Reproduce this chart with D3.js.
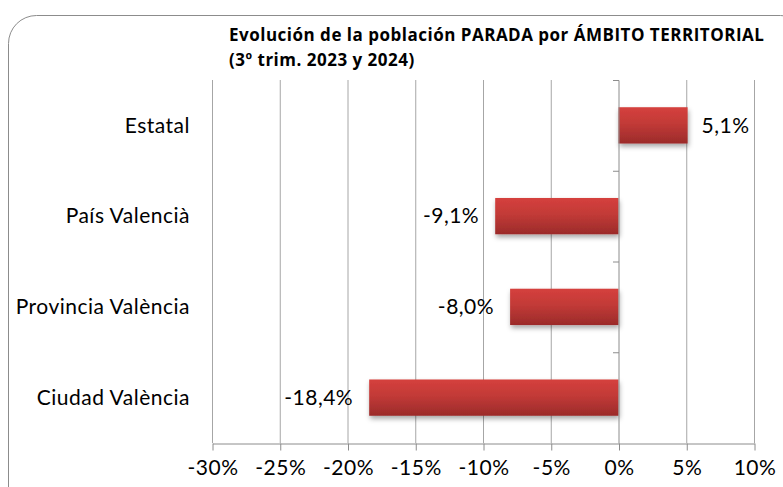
<!DOCTYPE html>
<html>
<head>
<meta charset="utf-8">
<script src="https://cdn.jsdelivr.net/npm/d3@7"></script>
<style>
  body { margin: 0; background: #fff; }
  svg { display: block; font-family: Lato, "Open Sans", sans-serif; }
</style>
</head>
<body>
<svg id="chart" width="783" height="487"></svg>
<script>
// data
const categories = ["Estatal", "País Valencià", "Provincia València", "Ciudad València"];
const values = [5.1, -9.1, -8.0, -18.4];
const labels = ["5,1%", "-9,1%", "-8,0%", "-18,4%"];
const xTicks = [-30, -25, -20, -15, -10, -5, 0, 5, 10];
const titleLines = ["Evolución de la población PARADA por ÁMBITO TERRITORIAL", "(3º trim. 2023 y 2024)"];

const W = 783, H = 487;
const m = { top: 80, right: 29, bottom: 44, left: 212 };
const svg = d3.select("#chart");
const bodyFont = { size: "21px", spacing: "0.5px" };

// frame
svg.append("rect")
  .attr("x", 8.5).attr("y", 15.5)
  .attr("width", 800).attr("height", 520)
  .attr("rx", 28)
  .attr("fill", "none").attr("stroke", "#8c8c8c").attr("stroke-width", 1);

const defs = svg.append("defs");
const grad = defs.append("linearGradient").attr("id", "barGrad")
  .attr("x1", 0).attr("y1", 0).attr("x2", 0).attr("y2", 1);
grad.append("stop").attr("offset", "0%").attr("stop-color", "#d5403d");
grad.append("stop").attr("offset", "45%").attr("stop-color", "#c23a37");
grad.append("stop").attr("offset", "100%").attr("stop-color", "#9b2b2a");
const shadow = defs.append("filter").attr("id", "shadow")
  .attr("x", "-10%").attr("y", "-20%").attr("width", "130%").attr("height", "160%");
shadow.append("feDropShadow").attr("dx", 1).attr("dy", 3).attr("stdDeviation", 2.5)
  .attr("flood-color", "#000").attr("flood-opacity", 0.35);

const x = d3.scaleLinear().domain([-30, 10]).range([m.left, W - m.right]);
const y = d3.scaleBand().domain(categories).range([m.top, H - m.bottom]).paddingInner(0.6).paddingOuter(0.3);
const yb = d3.scaleBand().domain(categories).range([m.top, H - m.bottom]);

// gridlines
svg.append("g")
  .selectAll("line").data(xTicks.filter(d => d !== 0)).join("line")
  .attr("x1", d => x(d) + 0.5).attr("x2", d => x(d) + 0.5)
  .attr("y1", m.top).attr("y2", H - m.bottom)
  .attr("stroke", "#a6a6a6").attr("stroke-width", 1);

// x axis
const xAxis = svg.append("g")
  .attr("transform", `translate(0.5,${H - m.bottom + 0.5})`)
  .call(d3.axisBottom(x).tickValues(xTicks).tickFormat(d => d + "%").tickSize(7).tickPadding(10).tickSizeOuter(0));
xAxis.select(".domain").attr("stroke", "#8c8c8c");
xAxis.selectAll(".tick line").attr("stroke", "#8c8c8c");
xAxis.selectAll("text").attr("fill", "#000")
  .style("font-size", bodyFont.size).style("letter-spacing", bodyFont.spacing)
  .style("font-family", "Lato, 'Open Sans', sans-serif");

// bars
svg.append("g")
  .selectAll("rect").data(values).join("rect")
  .attr("x", d => x(Math.min(0, d)))
  .attr("y", (d, i) => y(categories[i]))
  .attr("width", d => Math.abs(x(d) - x(0)))
  .attr("height", y.bandwidth())
  .attr("fill", "url(#barGrad)")
  .attr("filter", "url(#shadow)");

// category axis at zero
const yAxis = svg.append("g")
  .attr("transform", `translate(${x(0) + 0.5},0.5)`);
yAxis.append("line").attr("y1", m.top).attr("y2", H - m.bottom).attr("stroke", "#8c8c8c");
yAxis.selectAll("line.tk").data(categories).join("line").attr("class", "tk")
  .attr("x1", -6).attr("x2", 0)
  .attr("y1", d => yb(d)).attr("y2", d => yb(d))
  .attr("stroke", "#8c8c8c");

// category labels
svg.append("g")
  .selectAll("text").data(categories).join("text")
  .attr("x", 190)
  .attr("y", d => y(d) + y.bandwidth() / 2)
  .attr("dy", "0.35em")
  .attr("text-anchor", "end")
  .style("font-size", bodyFont.size).style("letter-spacing", bodyFont.spacing)
  .text(d => d);

// value labels
svg.append("g")
  .selectAll("text").data(values).join("text")
  .attr("x", d => d >= 0 ? x(d) + 14 : x(d) - 16)
  .attr("y", (d, i) => y(categories[i]) + y.bandwidth() / 2)
  .attr("dy", "0.35em")
  .attr("text-anchor", d => d >= 0 ? "start" : "end")
  .style("font-size", bodyFont.size).style("letter-spacing", bodyFont.spacing)
  .text((d, i) => labels[i]);

// title
svg.append("g")
  .selectAll("text").data(titleLines).join("text")
  .attr("x", 229)
  .attr("y", (d, i) => 41 + i * 25)
  .style("font-family", "'Open Sans', sans-serif")
  .style("font-size", "17px")
  .style("letter-spacing", "0.5px")
  .style("font-weight", "bold")
  .text(d => d);
</script>
</body>
</html>
